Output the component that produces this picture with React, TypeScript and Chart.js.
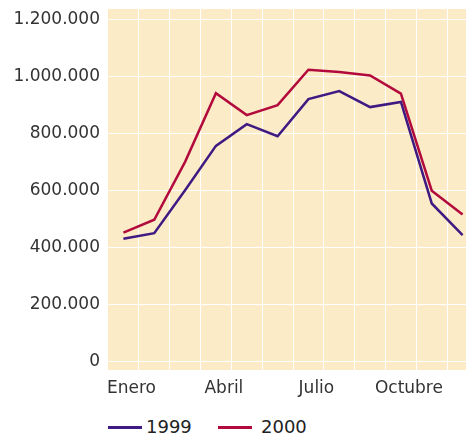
import React, { useEffect, useRef } from "react";
import { Chart, registerables } from "chart.js";

Chart.register(...registerables);

const months = [
  "Enero", "Febrero", "Marzo", "Abril", "Mayo", "Junio",
  "Julio", "Agosto", "Septiembre", "Octubre", "Noviembre", "Diciembre",
];
const shownMonthIdx = [0, 3, 6, 9];
const series1999 = [430000, 450000, 600000, 756000, 832000, 790000, 920000, 948000, 892000, 910000, 554000, 443000];
const series2000 = [452000, 497000, 700000, 941000, 864000, 899000, 1023000, 1015000, 1003000, 939000, 599000, 515000];
const yTicks = [0, 200000, 400000, 600000, 800000, 1000000, 1200000];

const PURPLE = "#3E1A82";
const RED = "#B20A3C";
const BG = "#FCEBC7";
const TEXT = "#333333";
const FONT = "'DejaVu Sans', sans-serif";

const fmt = (v: number) => String(Math.round(v)).replace(/\B(?=(\d{3})+(?!\d))/g, ".");

const bgPlugin = {
  id: "plotBg",
  beforeDraw(chart: any) {
    const { ctx, chartArea } = chart;
    if (!chartArea) return;
    ctx.save();
    ctx.fillStyle = BG;
    ctx.fillRect(chartArea.left, chartArea.top, chartArea.right - chartArea.left, chartArea.bottom - chartArea.top);
    ctx.restore();
  },
};

export default function App() {
  const ref = useRef<HTMLCanvasElement | null>(null);

  useEffect(() => {
    if (!ref.current) return;
    const chart = new Chart(ref.current, {
      type: "line",
      data: {
        labels: months,
        datasets: [
          { label: "1999", data: series1999, borderColor: PURPLE, backgroundColor: PURPLE, borderWidth: 2.5, pointRadius: 0, tension: 0, borderJoinStyle: "miter" as any },
          { label: "2000", data: series2000, borderColor: RED, backgroundColor: RED, borderWidth: 2.5, pointRadius: 0, tension: 0, borderJoinStyle: "miter" as any },
        ],
      },
      options: {
        responsive: false,
        animation: false,
        devicePixelRatio: 1,
        layout: { padding: { top: 29, left: 0, right: 0, bottom: 0 } },
        plugins: { legend: { display: false }, tooltip: { enabled: false } },
        scales: {
          x: {
            type: "category",
            offset: true,
            border: { display: false },
            grid: {
              offset: true,
              drawTicks: false,
              lineWidth: 1,
              color: (c: any) => (c.index === 0 ? "rgba(0,0,0,0)" : "#ffffff"),
            },
            ticks: {
              autoSkip: false,
              maxRotation: 0,
              minRotation: 0,
              padding: 8,
              labelOffset: 8,
              color: TEXT,
              font: { family: FONT, size: 17 },
              callback: (_v: any, i: number) => (shownMonthIdx.includes(i) ? months[i] : ""),
            },
            afterFit: (s: any) => { s.height = 30; },
          },
          y: {
            min: -30000,
            max: 1236000,
            border: { display: false },
            grid: { drawTicks: false, color: "#ffffff", lineWidth: 1 },
            afterBuildTicks: (s: any) => { s.ticks = yTicks.map((v) => ({ value: v })); },
            ticks: {
              padding: 8,
              color: TEXT,
              font: { family: FONT, size: 17 },
              callback: (v: any) => fmt(Number(v)),
            },
            afterFit: (s: any) => { s.width = 108; },
          },
        },
      },
      plugins: [bgPlugin],
    });
    return () => chart.destroy();
  }, []);

  const legendText: React.CSSProperties = {
    position: "absolute",
    top: 418,
    fontFamily: FONT,
    fontSize: 18,
    lineHeight: "18px",
    color: "#222",
    whiteSpace: "nowrap",
  };

  return (
    <div style={{ position: "fixed", left: 0, top: 0, width: 466, height: 434, overflow: "hidden", background: "#fff" }}>
      <canvas ref={ref} width={478} height={420} style={{ position: "absolute", left: 0, top: -20, width: 478, height: 420 }} />
      <div style={{ position: "absolute", left: 108, top: 426, width: 34, height: 2.5, background: PURPLE }} />
      <span style={{ ...legendText, left: 146 }}>1999</span>
      <div style={{ position: "absolute", left: 218, top: 426, width: 34, height: 2.5, background: RED }} />
      <span style={{ ...legendText, left: 261 }}>2000</span>
    </div>
  );
}
